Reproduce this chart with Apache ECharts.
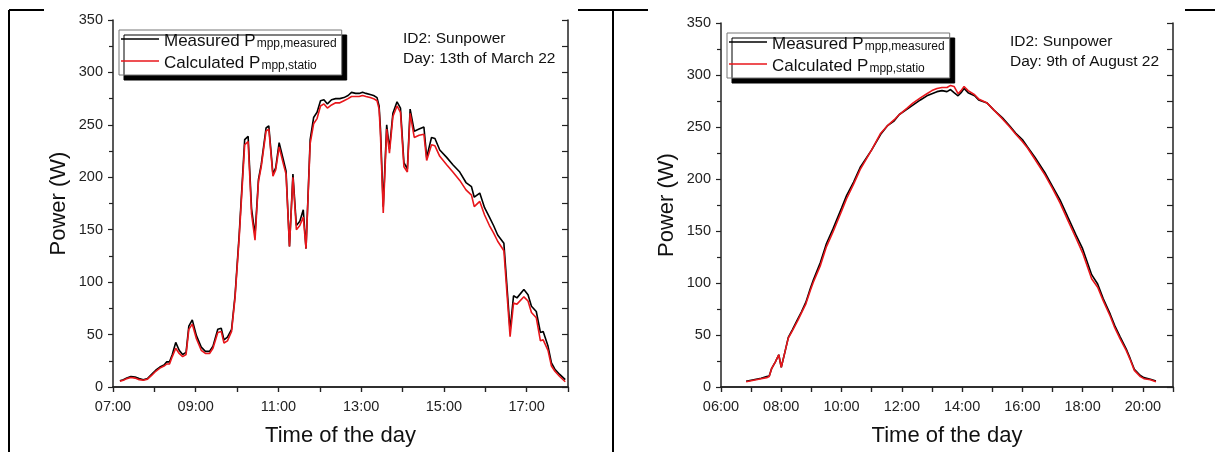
<!DOCTYPE html>
<html>
<head>
<meta charset="utf-8">
<script src="https://cdn.jsdelivr.net/npm/echarts@6/dist/echarts.min.js"></script>
<style>
    html, body { margin: 0; padding: 0; background: #fff; }
    #chart { width: 1215px; height: 452px; }
</style>
</head>
<body>
<div id="chart"></div>
<script>
// 13th of March 22
const marchTimes = ['07:10','07:15','07:20','07:26','07:32','07:38','07:44','07:50','07:56','08:02',
    '08:08','08:14','08:18','08:22','08:26','08:31','08:36','08:41','08:46','08:50',
    '08:55','09:01','09:08','09:14','09:20','09:25','09:32','09:37','09:41','09:46',
    '09:52','09:57','10:03','10:11','10:16','10:21','10:26','10:31','10:35','10:42',
    '10:46','10:52','10:56','11:01','11:07','11:11','11:16','11:21','11:26','11:31',
    '11:36','11:40','11:46','11:51','11:56','12:01','12:06','12:11','12:17','12:23',
    '12:29','12:35','12:41','12:46','12:52','12:57','13:02','13:07','13:13','13:18',
    '13:23','13:26','13:28','13:32','13:37','13:41','13:46','13:52','13:57','14:02',
    '14:07','14:11','14:17','14:24','14:31','14:35','14:42','14:47','14:54','15:04',
    '15:13','15:23','15:32','15:40','15:44','15:52','15:59','16:06','16:12','16:18',
    '16:27','16:36','16:41','16:46','16:56','17:02','17:07','17:14','17:20','17:24',
    '17:31','17:36','17:41','17:48','17:56'];
const marchMeasured = [6,7,8.5,10,9.5,8,7,8,12,16,
    19,21,24,24,31,42.5,35,31,33,58,
    64,49,38,34,34,39,55,56,45,47.5,
    55,87,145,236,239,170,145,198,212,247,
    249,203,209,233,217,206,134,203,154,158,
    169,132,236,257,262,273,274,270,274,275,
    275,276,278,281,280,280,281,280,279,278,
    276,268,246,172,250,227,261,272,266,214,
    208,265,244,246,248,219,238,237,226,219,
    212,205,195,191,181,185,171,162,154,145,
    137,54,87,85,93,88,77,72,52,53,
    39,23,17,12,7];
const marchCalculated = [5.5,6.5,8,9,8.5,7,6.5,7.5,11,15,
    18,20,22,22,29,37,32,29,31,55,
    60,46,35,32,32,37,52,53,42,44,
    53,85,142,231,234,165,140,196,210,244,
    246,201,207,229,213,203,134,200,150,154,
    162,132,232,251,256,268,270,266,269,271,
    271,273,275,277,277,277,278,277,276,275,
    273,265,240,166,246,223,258,268,262,210,
    205,261,238,240,241,216,231,230,220,212,
    205,197,188,183,172,177,164,154,147,139,
    130,48,80,79,86,82,71,66,44,45,
    35,20,15,10,5];

// 9th of August 22
const augTimes = ['06:50','07:00','07:10','07:20','07:31','07:36','07:41','07:48','07:55','08:00',
    '08:07','08:14','08:22','08:33','08:40','08:49','08:58','09:04','09:18','09:30',
    '09:43','10:00','10:10','10:24','10:37','11:00','11:18','11:31','11:45','11:55',
    '12:10','12:22','12:37','12:50','13:00','13:10','13:20','13:30','13:37','13:44',
    '13:52','13:58','14:04','14:12','14:25','14:33','14:50','15:04','15:20','15:35',
    '15:47','16:00','16:10','16:25','16:45','17:00','17:15','17:30','17:47','18:00',
    '18:18','18:30','18:41','18:55','19:04','19:15','19:27','19:35','19:43','19:55',
    '20:02','20:15','20:26'];
const augMeasured = [5.5,6.5,7.5,8.5,10,10.5,18,24,31,19,
    33,47.7,55,65.5,72,81.6,95,103,120,138,
    152,172,184,197,211,228,243,251,256,262,
    267,271,276,280,282,284,285,284,286,283,
    280,283,287,283,280,276,273,266,259,251,
    244,238,231,221,206,193,180,164,146,133,
    108,99,85,70,59,48,36.5,27,17,11,
    9,7.5,5.8];
const augCalculated = [5,6,7,8,9,10,18,24,31,19,
    33,47,54,64,71,80,93,101,117,135,
    149,169,181,195,209,228,244,251,257,262,
    268,273,278,282,285,287,288,288,290,289,
    282,285,289,285,281,277,273,266,258,250,
    243,236,230,219,204,191,177,161,143,129,
    104,96,83,68,57,46,35,26,16,10,
    8,7,5];

const powerMin = 0;
const powerMax = 350;
const powerStep = 50;

const FONT = 'Liberation Sans';
const RED = '#e8161b';

function toMinutes (t) {
    const p = t.split(':');
    return Number(p[0]) * 60 + Number(p[1]);
}

function pairs (times, values) {
    return times.map((t, i) => [toMinutes(t), values[i]]);
}

function hourLabel (odd) {
    return function (v) {
        const h = Math.round(v / 60);
        if ((h % 2 === 1) !== odd) return '';
        return (h < 10 ? '0' : '') + h + ':00';
    };
}

function legendText (name) {
    if (name === 'Measured') return '{m|Measured P}{s|mpp,measured}';
    return '{m|Calculated P}{s|mpp,statio}';
}

function makeLegend (left, top) {
    return {
        left: left, top: top,
        orient: 'vertical',
        data: ['Measured', 'Calculated'],
        icon: 'rect',
        itemWidth: 38,
        itemHeight: 1.5,
        itemGap: 5,
        padding: [3, 5, 3, 2],
        backgroundColor: '#fff',
        borderColor: '#777',
        borderWidth: 1,
        shadowColor: '#000',
        shadowBlur: 0,
        shadowOffsetX: 5,
        shadowOffsetY: 5,
        selectedMode: false,
        formatter: legendText,
        textStyle: {
            fontFamily: FONT,
            color: '#111',
            rich: {
                m: { fontFamily: FONT, fontSize: 17, color: '#111', verticalAlign: 'bottom' },
                s: { fontFamily: FONT, fontSize: 12, color: '#111', verticalAlign: 'bottom', padding: [10, 0, 0, 1] }
            }
        }
    };
}

function bottomAxis (gridIndex, min, max, odd) {
    return {
        type: 'value', gridIndex: gridIndex, position: 'bottom',
        min: min, max: max, interval: 60,
        name: 'Time of the day', nameLocation: 'middle', nameGap: 38,
        nameTextStyle: { fontFamily: FONT, fontSize: 22, color: '#111' },
        axisLine: { lineStyle: { color: '#222', width: 1.5 } },
        axisTick: { inside: false, length: 5, lineStyle: { color: '#222', width: 1.2 } },
        axisLabel: { formatter: hourLabel(odd), fontFamily: FONT, fontSize: 14.5, color: '#222', margin: 12 },
        splitLine: { show: false }
    };
}

function topAxis (gridIndex, min, max) {
    return {
        type: 'value', gridIndex: gridIndex, position: 'top',
        min: min, max: max, interval: 60,
        axisLine: { lineStyle: { color: '#222', width: 1.5 } },
        axisTick: { inside: true, length: 5, lineStyle: { color: '#222', width: 1.2 } },
        axisLabel: { show: false },
        splitLine: { show: false }
    };
}

function leftAxis (gridIndex) {
    return {
        type: 'value', gridIndex: gridIndex, position: 'left',
        min: powerMin, max: powerMax, interval: powerStep,
        name: 'Power (W)', nameLocation: 'middle', nameGap: 43,
        nameTextStyle: { fontFamily: FONT, fontSize: 22, color: '#111' },
        axisLine: { show: true, lineStyle: { color: '#222', width: 1.5 } },
        axisTick: { show: true, inside: false, length: 5, lineStyle: { color: '#222', width: 1.2 } },
        minorTick: { show: true, splitNumber: 2, length: 4, lineStyle: { color: '#222', width: 1.2 } },
        axisLabel: { fontFamily: FONT, fontSize: 14.5, color: '#222', margin: 10 },
        splitLine: { show: false }
    };
}

function rightAxis (gridIndex) {
    return {
        type: 'value', gridIndex: gridIndex, position: 'right',
        min: powerMin, max: powerMax, interval: powerStep / 2,
        axisLine: { show: true, lineStyle: { color: '#222', width: 1.5 } },
        axisTick: { show: true, inside: true, length: 6, lineStyle: { color: '#222', width: 1.2 } },
        axisLabel: { show: false },
        splitLine: { show: false }
    };
}

function makeSeries (name, color, gridNo, data) {
    return {
        name: name, type: 'line',
        xAxisIndex: gridNo * 2, yAxisIndex: gridNo * 2,
        data: data,
        showSymbol: false, symbol: 'none',
        animation: false,
        lineStyle: { color: color, width: 1.6 },
        itemStyle: { color: color }
    };
}

function annotation (x, y, text) {
    return {
        type: 'text', left: x, top: y,
        style: { text: text, fontFamily: FONT, fontSize: 15.5, fill: '#111', lineHeight: 20 }
    };
}

function frameLine (x1, y1, x2, y2) {
    return {
        type: 'line',
        shape: { x1: x1, y1: y1, x2: x2, y2: y2 },
        style: { stroke: '#000', lineWidth: 2 }
    };
}

const chart = echarts.init(document.getElementById('chart'));

chart.setOption({
    backgroundColor: '#fff',
    animation: false,
    grid: [
        { left: 113, top: 20, width: 455, height: 368 },
        { left: 721, top: 23, width: 452, height: 366 }
    ],
    legend: [makeLegend(119, 30), makeLegend(727, 33)],
    xAxis: [
        bottomAxis(0, 420, 1080, true),
        topAxis(0, 420, 1080),
        bottomAxis(1, 360, 1260, false),
        topAxis(1, 360, 1260)
    ],
    yAxis: [leftAxis(0), rightAxis(0), leftAxis(1), rightAxis(1)],
    series: [
        makeSeries('Measured', '#000', 0, pairs(marchTimes, marchMeasured)),
        makeSeries('Calculated', RED, 0, pairs(marchTimes, marchCalculated)),
        makeSeries('Measured', '#000', 1, pairs(augTimes, augMeasured)),
        makeSeries('Calculated', RED, 1, pairs(augTimes, augCalculated))
    ],
    graphic: [
        annotation(403, 29, 'ID2: Sunpower\nDay: 13th of March 22'),
        annotation(1010, 32, 'ID2: Sunpower\nDay: 9th of August 22'),
        // table borders around the two panels
        frameLine(9, 10, 9, 452),
        frameLine(613, 10, 613, 452),
        frameLine(9, 10, 44, 10),
        frameLine(578, 10, 648, 10),
        frameLine(1185, 10, 1215, 10)
    ]
});
</script>
</body>
</html>
